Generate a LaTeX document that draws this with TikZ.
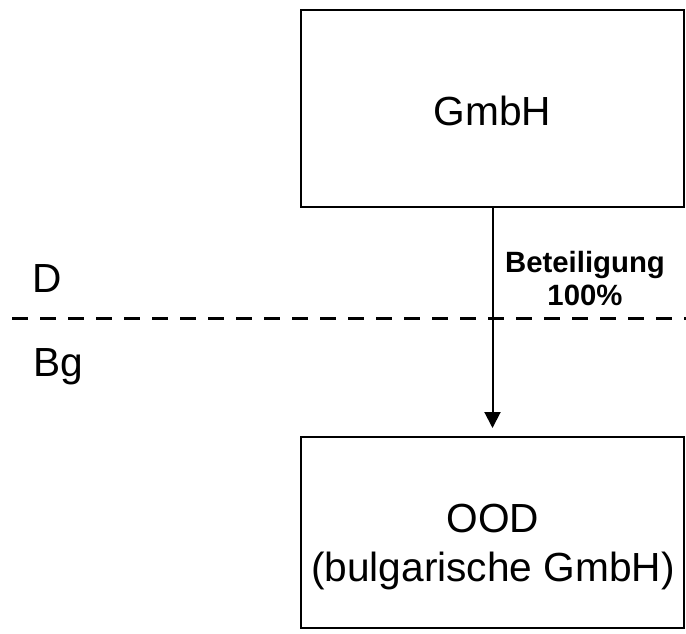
\documentclass[tikz,border=0pt]{standalone}
\usepackage{fontspec}
\setmainfont{Liberation Sans}
\usetikzlibrary{arrows.meta, positioning}
\tikzset{
  firm/.style={draw, line width=1.5pt, minimum width=287.25pt, inner sep=0pt},
  firmtext/.style={inner sep=0pt, align=center, font=\fontsize{30.5}{37}\selectfont},
  borderline/.style={line width=2.25pt, dash pattern=on 12pt off 9pt},
  land/.style={anchor=base west, inner sep=0pt, font=\fontsize{30.5}{37}\selectfont}
}

\begin{document}
\begin{tikzpicture}[x=0.75pt, y=-0.75pt]
  \useasboundingbox (0,0) rectangle (686,633);
  \node[firm, minimum height=147.75pt] (gmbh) at (492.5,108.5) {};
  \node[firmtext, anchor=base] (gmbhname) at (492.5,125) {GmbH};
  \node[firm, minimum height=143.25pt] (ood) at (492.5,532.5) {};
  \node[firmtext] (oodname) at (493,547) {OOD\\(bulgarische GmbH)};
  % border between the countries
  \draw[borderline] (12,318) -- (686,318);
  \node[land] (de) at (32,292) {D};
  \node[land] (bg) at (33,376) {Bg};
  \draw[line width=1.5pt, -{Triangle[length=12pt, width=12pt]}, shorten >=6pt]
    (gmbh) -- (ood);
  \node[anchor=north, inner sep=0pt, align=center,
    font=\fontsize{22}{24.75}\selectfont\bfseries] (share) at (585,251)
    {Beteiligung\\100\%};
\end{tikzpicture}
\end{document}
